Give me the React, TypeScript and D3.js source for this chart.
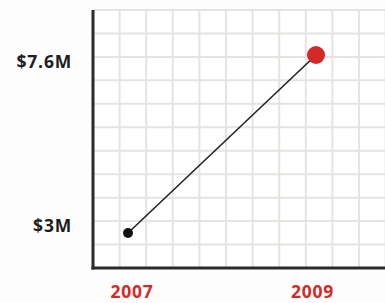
import React from "react";
import * as d3 from "d3";

const years = [2007, 2009];
const values = [3, 7.6];
const valueLabels = ["$3M", "$7.6M"];
const yearLabels = ["2007", "2009"];

const W = 385;
const H = 303;

export default function App() {
  const x = d3.scaleLinear().domain([2007, 2009]).range([128, 316]);
  const y = d3.scaleLinear().domain([3, 7.6]).range([233, 55]);

  const axisX = 93;
  const axisY = 268;
  const top = 10;
  const cellW = 26.6;
  const cellH = (axisY - top) / 11;
  const vLines = d3.range(1, 12).map((i) => axisX + i * cellW);
  const hLines = d3.range(1, 12).map((i) => axisY - i * cellH);

  const line = d3
    .line<number>()
    .x((_, i) => x(years[i]))
    .y((d) => y(d));

  const labelOffsets = [-5.5, 8];
  const yearOffsets = [4, -3.5];

  return (
    <svg
      width={W}
      height={H}
      style={{ position: "absolute", left: 0, top: 0, background: "#fff" }}
    >
      <rect width={W} height={H} fill="#fdfdfd" />
      <rect x={axisX} y={top} width={W - axisX} height={axisY - top} fill="#fff" />
      {vLines.map((vx, i) => (
        <line key={"v" + i} x1={vx} x2={vx} y1={top} y2={axisY} stroke="#e6e3e0" strokeWidth={2} />
      ))}
      {hLines.map((hy, i) => (
        <line key={"h" + i} x1={axisX} x2={W} y1={hy} y2={hy} stroke="#e6e3e0" strokeWidth={2} />
      ))}
      <line x1={axisX} x2={axisX} y1={top} y2={axisY + 1.5} stroke="#2b2b2b" strokeWidth={3} />
      <line x1={axisX - 1.5} x2={W} y1={axisY} y2={axisY} stroke="#2b2b2b" strokeWidth={3} />
      <path d={line(values) ?? ""} fill="none" stroke="#222" strokeWidth={1.6} />
      <circle cx={x(years[0])} cy={y(values[0])} r={5} fill="#111" />
      <circle cx={x(years[1])} cy={y(values[1])} r={9} fill="#d42a27" />
      {valueLabels.map((t, i) => (
        <text
          key={t}
          x={72}
          y={y(values[i]) + labelOffsets[i]}
          textAnchor="end"
          dominantBaseline="middle"
          fontFamily="'Open Sans', sans-serif"
          fontWeight={700}
          fontSize={17.5}
          letterSpacing={0.8}
          fill="#1e1e1e"
        >
          {t}
        </text>
      ))}
      {yearLabels.map((t, i) => (
        <text
          key={t}
          x={x(years[i]) + yearOffsets[i]}
          y={293}
          textAnchor="middle"
          dominantBaseline="middle"
          fontFamily="'Open Sans', sans-serif"
          fontWeight={700}
          fontSize={17.5}
          letterSpacing={0.8}
          fill="#d42a27"
        >
          {t}
        </text>
      ))}
    </svg>
  );
}
